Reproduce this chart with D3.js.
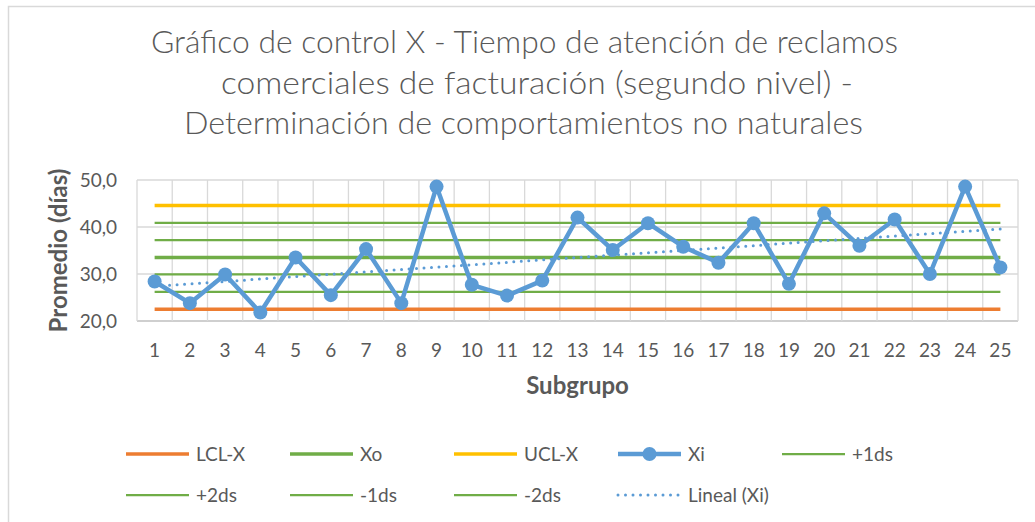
<!DOCTYPE html>
<html>
<head>
<meta charset="utf-8">
<script src="https://cdn.jsdelivr.net/npm/d3@7"></script>
<style>
  body { margin: 0; background: #fff; }
  svg { display: block; font-family: Lato, "Open Sans", sans-serif; }
</style>
</head>
<body>
<svg id="chart" width="1035" height="522"></svg>
<script>
// values
var subgroups = d3.range(1, 26).map(String);
var xi = [28.4, 23.8, 29.9, 21.8, 33.5, 25.5, 35.3, 23.8, 48.6, 27.7, 25.4, 28.6, 42.0,
          35.1, 40.8, 35.8, 32.4, 40.8, 27.9, 42.9, 36.0, 41.6, 30.0, 48.6, 31.4];
var limitNames = ['LCL-X', 'Xo', 'UCL-X', '+1ds', '+2ds', '-1ds', '-2ds'];
var limitValues = [22.5, 33.5, 44.6, 37.2, 40.9, 29.9, 26.2];
var trendEnds = [27.4, 39.6];   // Lineal (Xi) at subgroup 1 and 25
var yTicks = [20, 30, 40, 50];
var legendOrder = ['LCL-X', 'Xo', 'UCL-X', 'Xi', '+1ds', '+2ds', '-1ds', '-2ds', 'Lineal (Xi)'];
var titleLines = ['Gráfico de control X - Tiempo de atención de reclamos',
                  'comerciales de facturación (segundo nivel) -',
                  'Determinación de comportamientos no naturales'];

// styles per series
var styles = {
  'LCL-X': {color: '#ED7D31', width: 3.5},
  'Xo':    {color: '#70AD47', width: 3.5},
  'UCL-X': {color: '#FFC000', width: 3.5},
  'Xi':    {color: '#5B9BD5', width: 4.5},
  '+1ds':  {color: '#70AD47', width: 2.25},
  '+2ds':  {color: '#70AD47', width: 2.25},
  '-1ds':  {color: '#70AD47', width: 2.25},
  '-2ds':  {color: '#70AD47', width: 2.25},
  'Lineal (Xi)': {color: '#5B9BD5', width: 3, dash: '0 7.5'}
};
var textColor = '#595959';

var svg = d3.select('#chart');

// chart area frame
svg.append('rect')
  .attr('x', 8.5).attr('y', 6.5)
  .attr('width', 1100).attr('height', 600)
  .attr('fill', 'none').attr('stroke', '#d9d9d9').attr('stroke-width', 1.5);

var plot = {left: 137, right: 1018, top: 180, bottom: 321};

var x = d3.scaleBand().domain(subgroups).range([plot.left, plot.right]).padding(0);
var y = d3.scaleLinear().domain([20, 50]).range([plot.bottom, plot.top]);
var cx = function(d) { return x(d) + x.bandwidth() / 2; };

var es = d3.formatLocale({decimal: ',', thousands: '.', grouping: [3], currency: ['', '']});
var fmt = es.format('.1f');

// horizontal gridlines
svg.append('g')
  .selectAll('line')
  .data(yTicks)
  .enter()
  .append('line')
  .attr('x1', plot.left).attr('x2', plot.right)
  .attr('y1', function(d) { return y(d); })
  .attr('y2', function(d) { return y(d); })
  .attr('stroke', function(d) { return d === 20 ? '#bfbfbf' : '#d9d9d9'; })
  .attr('stroke-width', 1.3);

// vertical gridlines at category boundaries
var edges = subgroups.map(function(d) { return x(d); }).concat([plot.right]);
svg.append('g')
  .selectAll('line')
  .data(edges)
  .enter()
  .append('line')
  .attr('x1', function(d) { return d; }).attr('x2', function(d) { return d; })
  .attr('y1', plot.top).attr('y2', plot.bottom)
  .attr('stroke', '#d9d9d9')
  .attr('stroke-width', 1.3);

// axes (labels only)
var yAxis = svg.append('g')
  .attr('transform', 'translate(' + plot.left + ',0)')
  .call(d3.axisLeft(y).tickValues(yTicks).tickFormat(fmt).tickSize(0).tickPadding(20));
var xAxis = svg.append('g')
  .attr('transform', 'translate(0,' + plot.bottom + ')')
  .call(d3.axisBottom(x).tickSize(0));
[yAxis, xAxis].forEach(function(a) {
  a.select('.domain').remove();
  a.selectAll('text')
    .attr('fill', textColor)
    .style('font-size', '19px')
    .style('font-family', 'Lato, "Open Sans", sans-serif');
});
xAxis.selectAll('text').attr('y', 36).attr('dy', 0);

// axis titles
svg.append('text')
  .attr('x', (plot.left + plot.right) / 2).attr('y', 394)
  .attr('text-anchor', 'middle')
  .attr('fill', textColor)
  .style('font-size', '24px').style('font-weight', 'bold')
  .text('Subgrupo');
svg.append('text')
  .attr('transform', 'translate(67,' + (plot.top + plot.bottom) / 2 + ') rotate(-90)')
  .attr('text-anchor', 'middle')
  .attr('fill', textColor)
  .style('font-size', '24px').style('font-weight', 'bold')
  .text('Promedio (días)');

// chart title
var titleX = [151, 221, 184];
var titleW = [747, 632, 679];
var titleY = [53, 94, 134];
svg.append('g')
  .selectAll('text')
  .data(titleLines)
  .enter()
  .append('text')
  .attr('x', function(d, i) { return titleX[i]; })
  .attr('y', function(d, i) { return titleY[i]; })
  .attr('textLength', function(d, i) { return titleW[i]; })
  .attr('lengthAdjust', 'spacingAndGlyphs')
  .attr('fill', textColor)
  .style('font-size', '31px').style('font-weight', 300)
  .text(function(d) { return d; });

// control limit lines, first to last subgroup
var first = subgroups[0], last = subgroups[subgroups.length - 1];
function drawLimit(name, i) {
  svg.append('line')
    .attr('x1', cx(first)).attr('x2', cx(last))
    .attr('y1', y(limitValues[i])).attr('y2', y(limitValues[i]))
    .attr('stroke', styles[name].color)
    .attr('stroke-width', styles[name].width);
}
limitNames.forEach(function(name, i) { if (name.indexOf('ds') === -1) drawLimit(name, i); });
limitNames.forEach(function(name, i) { if (name.indexOf('ds') !== -1) drawLimit(name, i); });

// Xi series
var line = d3.line()
  .x(function(d, i) { return cx(subgroups[i]); })
  .y(function(d) { return y(d); });
svg.append('path')
  .datum(xi)
  .attr('d', line)
  .attr('fill', 'none')
  .attr('stroke', styles['Xi'].color)
  .attr('stroke-width', styles['Xi'].width)
  .attr('stroke-linejoin', 'round');
svg.append('g')
  .selectAll('circle')
  .data(xi)
  .enter()
  .append('circle')
  .attr('cx', function(d, i) { return cx(subgroups[i]); })
  .attr('cy', function(d) { return y(d); })
  .attr('r', 7)
  .attr('fill', styles['Xi'].color);

// linear trend of Xi
svg.append('line')
  .attr('x1', cx(first)).attr('x2', cx(last))
  .attr('y1', y(trendEnds[0])).attr('y2', y(trendEnds[1]))
  .attr('stroke', styles['Lineal (Xi)'].color)
  .attr('stroke-width', styles['Lineal (Xi)'].width)
  .attr('stroke-dasharray', styles['Lineal (Xi)'].dash)
  .attr('stroke-linecap', 'round');

// legend: 5 columns, 2 rows
var legend = svg.append('g');
var items = legend.selectAll('g')
  .data(legendOrder)
  .enter()
  .append('g')
  .attr('transform', function(d, i) {
    return 'translate(' + (126 + (i % 5) * 164) + ',' + (454 + Math.floor(i / 5) * 41) + ')';
  });
items.append('line')
  .attr('x1', 0).attr('x2', 63)
  .attr('stroke', function(d) { return styles[d].color; })
  .attr('stroke-width', function(d) { return styles[d].width; })
  .attr('stroke-dasharray', function(d) { return styles[d].dash || null; })
  .attr('stroke-linecap', function(d) { return styles[d].dash ? 'round' : 'butt'; });
items.filter(function(d) { return d === 'Xi'; })
  .append('circle')
  .attr('cx', 31.5).attr('r', 7)
  .attr('fill', styles['Xi'].color);
items.append('text')
  .attr('x', 70).attr('y', 7)
  .attr('fill', textColor)
  .style('font-size', '19px')
  .text(function(d) { return d; });
</script>
</body>
</html>
